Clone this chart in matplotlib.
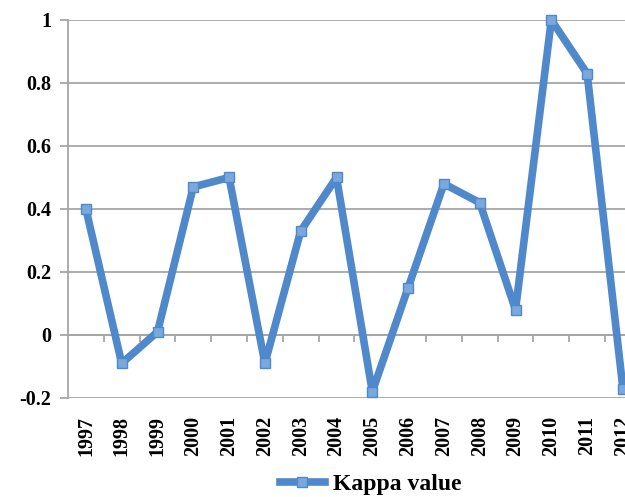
import numpy as np
import matplotlib.pyplot as plt
from matplotlib.ticker import FixedLocator

plt.rcParams['font.family'] = ['Liberation Serif', 'DejaVu Serif']
plt.rcParams['axes.unicode_minus'] = False

# data
years = [str(y) for y in range(1997, 2013)]
kappa = [0.40, -0.09, 0.01, 0.47, 0.50, -0.09, 0.33, 0.50,
         -0.18, 0.15, 0.48, 0.42, 0.08, 1.00, 0.83, -0.17]
y_ticks = [-0.2, 0, 0.2, 0.4, 0.6, 0.8, 1.0]
y_labels = ['-0.2', '0', '0.2', '0.4', '0.6', '0.8', '1']

fig = plt.figure(figsize=(6.25, 4.97), dpi=100)
ax = fig.add_axes([0.1088, 0.1992, 0.9165, 0.7606])

x = np.arange(len(years))
ax.plot(x, kappa, color='#5089cb', lw=5.5, marker='s', markersize=7,
        markerfacecolor='#7aa8dc', markeredgecolor='#5089cb', markeredgewidth=1,
        label='Kappa value', clip_on=False, zorder=3, solid_joinstyle='round')

ax.set_xlim(-0.5, len(years) - 0.5)
ax.set_ylim(-0.2, 1.0)

ax.spines['bottom'].set_position(('data', 0))
for s in ['top', 'right']:
    ax.spines[s].set_visible(False)
for s in ['left', 'bottom']:
    ax.spines[s].set_color('#a6a6a6')
    ax.spines[s].set_linewidth(1.3)

ax.tick_params(axis='x', which='major', length=0, pad=58)
ax.tick_params(axis='x', which='minor', length=5, width=1.3, color='#a6a6a6', direction='out')
ax.tick_params(axis='y', length=6, width=1.3, color='#a6a6a6', pad=6)

ax.set_yticks(y_ticks)
ax.set_yticklabels(y_labels, fontsize=14.5, fontweight='bold')
ax.yaxis.grid(True, color='#a6a6a6', lw=1.3)
ax.set_axisbelow(True)

ax.set_xticks(x)
ax.set_xticklabels(years, rotation=90, fontsize=14.5, fontweight='bold')
ax.xaxis.set_minor_locator(FixedLocator(np.arange(0.5, len(years), 1)))

fig.legend(loc='center', bbox_to_anchor=(0.593, 0.026), frameon=False,
           prop={'size': 17, 'weight': 'bold'}, handlelength=1.9, handletextpad=0.35)

fig.savefig('out.png', dpi=100)
